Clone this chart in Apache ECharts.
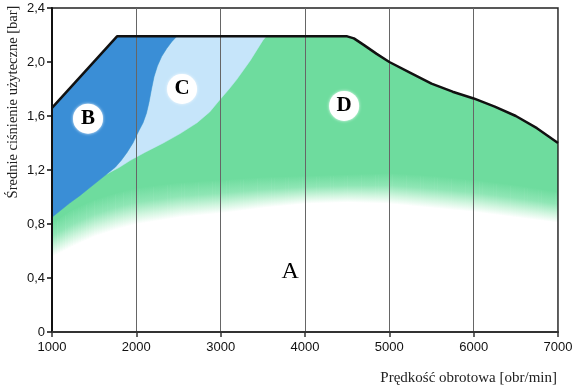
<!DOCTYPE html>
<html>
<head>
<meta charset="utf-8">
<script src="https://cdn.jsdelivr.net/npm/echarts@6/dist/echarts.min.js"></script>
<style>html,body{margin:0;padding:0;background:#fff}#c{width:577px;height:389px}</style>
</head>
<body>
<div id="c"></div>
<script>
// ---- data ----
const xTicks = [1000, 2000, 3000, 4000, 5000, 6000, 7000];
const yTicks = [0, 0.4, 0.8, 1.2, 1.6, 2.0, 2.4];

// outer envelope (black line)
const envelopeX = [1000, 1771, 4500, 4580, 4700, 4850, 5000, 5250, 5500, 5750, 6000, 6250, 6500, 6750, 7000];
const envelopeY = [1.66, 2.19, 2.19, 2.175, 2.125, 2.06, 2.00, 1.92, 1.84, 1.78, 1.73, 1.67, 1.60, 1.51, 1.40];

// boundary B / C (from top down)
const bcX = [2480, 2420, 2360, 2300, 2250, 2210, 2180, 2150, 2120, 2080, 2030, 1960, 1890, 1820, 1750, 1650];
const bcY = [2.19, 2.15, 2.10, 2.04, 1.97, 1.89, 1.80, 1.70, 1.62, 1.55, 1.49, 1.40, 1.33, 1.27, 1.22, 1.17];

// boundary B / D (lower edge of B, from left axis)
const bdX = [1000, 1100, 1210, 1330, 1450, 1550, 1650];
const bdY = [0.85, 0.90, 0.955, 1.01, 1.07, 1.12, 1.17];

// boundary C / D (lower edge of C)
const cdX = [1650, 1800, 1925, 2100, 2320, 2520, 2720, 2870, 2990, 3100, 3190, 3350, 3500, 3540];
const cdY = [1.17, 1.22, 1.27, 1.33, 1.40, 1.47, 1.55, 1.63, 1.72, 1.80, 1.87, 2.01, 2.16, 2.19];

// green fade towards region A
const fadeX = [1000, 1250, 1500, 1750, 2000, 2500, 3000, 3500, 4000, 4500, 5000, 5500, 6000, 6500, 7000];
const fadeTopY = [0.80, 0.90, 0.97, 1.02, 1.06, 1.10, 1.12, 1.14, 1.15, 1.16, 1.17, 1.15, 1.12, 1.08, 1.03];
const fadeBotY = [0.56, 0.64, 0.71, 0.76, 0.80, 0.85, 0.88, 0.92, 0.95, 0.96, 0.95, 0.92, 0.89, 0.85, 0.81];

// region labels
const circleLabelNames = ['B', 'C', 'D'];
const circleLabelX = [1427, 2542, 4464];
const circleLabelY = [1.58, 1.80, 1.675];
const plainLabelNames = ['A'];
const plainLabelX = [3823];
const plainLabelY = [0.443];

// ---- build ----
const pairs = (xs, ys) => xs.map((x, i) => [x, ys[i]]);
const envPts = pairs(envelopeX, envelopeY);
const greenPoly = envPts.concat(pairs(fadeX, fadeTopY).reverse());
const bPoly = envPts.slice(0, 2).concat(pairs(bcX, bcY)).concat(pairs(bdX, bdY).slice(0, -1).reverse());
const cPoly = pairs(cdX, cdY).concat(pairs(bcX, bcY));

const COLORS = { B: '#3a8ed6', C: '#c6e5fa', D: '#6edc9e' };

function polySeries(name, poly, color) {
  return {
    type: 'custom', name: name, z: -1, silent: true,
    data: poly,
    renderItem: function (params, api) {
      if (params.dataIndex !== 0) return null;
      return {
        type: 'polygon',
        shape: { points: poly.map(p => api.coord(p)) },
        style: { fill: color, stroke: color, lineWidth: 0.5 }
      };
    }
  };
}

const fadeSeries = {
  type: 'custom', name: 'fade', z: -1, silent: true,
  data: fadeX.map((x, i) => [x, fadeTopY[i], fadeBotY[i]]),
  renderItem: function (params, api) {
    const i = params.dataIndex;
    if (i >= fadeX.length - 1) return null;
    const t0 = api.coord([fadeX[i], fadeTopY[i]]);
    const t1 = api.coord([fadeX[i + 1], fadeTopY[i + 1]]);
    const b0 = api.coord([fadeX[i], fadeBotY[i]]);
    const b1 = api.coord([fadeX[i + 1], fadeBotY[i + 1]]);
    const n = Math.max(1, Math.ceil((t1[0] - t0[0]) / 3));
    const children = [];
    for (let k = 0; k < n; k++) {
      const a = k / n, b = (k + 1) / n;
      const xa = t0[0] + (t1[0] - t0[0]) * a, xb = t0[0] + (t1[0] - t0[0]) * b;
      const ta = t0[1] + (t1[1] - t0[1]) * a - 1, tb = t0[1] + (t1[1] - t0[1]) * b - 1;
      const ba = b0[1] + (b1[1] - b0[1]) * a, bb = b0[1] + (b1[1] - b0[1]) * b;
      children.push({
        type: 'polygon',
        shape: { points: [[xa, ta], [xb + 0.6, tb], [xb + 0.6, bb], [xa, ba]] },
        style: {
          fill: new echarts.graphic.LinearGradient(0, 0, 0, 1, [
            { offset: 0, color: '#6edc9e' },
            { offset: 0.4, color: '#8fe6b5' },
            { offset: 0.75, color: '#d2f6e0' },
            { offset: 1, color: '#ffffff' }
          ])
        }
      });
    }
    return { type: 'group', children: children };
  }
};

const chart = echarts.init(document.getElementById('c'), null, { renderer: 'canvas' });
chart.setOption({
  animation: false,
  backgroundColor: '#fff',
  grid: { left: 52, right: 19, top: 8, bottom: 57, show: true, borderColor: '#222', borderWidth: 1.5 },
  xAxis: {
    type: 'value', min: xTicks[0], max: xTicks[xTicks.length - 1], interval: 1000,
    axisLine: { lineStyle: { color: '#333', width: 2 } },
    axisTick: { show: true, length: 5, lineStyle: { color: '#333', width: 1.5 } },
    axisLabel: { color: '#111', fontSize: 13, fontFamily: 'Liberation Sans', margin: 9, formatter: v => String(v) },
    splitLine: { show: true, lineStyle: { color: '#666', width: 1 } }
  },
  yAxis: {
    type: 'value', min: yTicks[0], max: yTicks[yTicks.length - 1], interval: 0.4,
    axisLine: { show: true, lineStyle: { color: '#111', width: 2 } },
    axisTick: { show: true, length: 5, lineStyle: { color: '#111', width: 1.5 } },
    axisLabel: {
      color: '#111', fontSize: 13, fontFamily: 'Liberation Sans', margin: 7,
      formatter: v => (v === 0 ? '0' : v.toFixed(1).replace('.', ','))
    },
    splitLine: { show: false }
  },
  graphic: [
    {
      type: 'text', x: 13, y: 102, rotation: Math.PI / 2,
      style: { text: 'Średnie ciśnienie użyteczne [bar]', font: '14.5px "Liberation Serif"', fill: '#222', textAlign: 'center', textVerticalAlign: 'middle' }
    },
    {
      type: 'text', x: 557, y: 378,
      style: { text: 'Prędkość obrotowa [obr/min]', font: '15px "Liberation Serif"', fill: '#222', textAlign: 'right', textVerticalAlign: 'middle' }
    }
  ],
  series: [
    polySeries('D', greenPoly, COLORS.D),
    fadeSeries,
    polySeries('C', cPoly, COLORS.C),
    polySeries('B', bPoly, COLORS.B),
    {
      type: 'line', name: 'envelope', z: 3, silent: true,
      data: envPts, symbol: 'none',
      lineStyle: { color: '#111', width: 2.5 }
    },
    {
      type: 'scatter', name: 'circleLabels', z: 4, silent: true,
      data: circleLabelX.map((x, i) => [x, circleLabelY[i], circleLabelNames[i]]),
      symbol: 'circle', symbolSize: 30,
      itemStyle: { color: '#fff', opacity: 1, shadowBlur: 3, shadowColor: 'rgba(255,255,255,0.9)' },
      label: {
        show: true, position: 'inside', formatter: p => p.value[2],
        fontFamily: 'Liberation Serif', fontWeight: 'bold', fontSize: 21, color: '#000'
      }
    },
    {
      type: 'scatter', name: 'plainLabels', z: 4, silent: true,
      data: plainLabelX.map((x, i) => [x, plainLabelY[i], plainLabelNames[i]]),
      symbolSize: 1, itemStyle: { color: 'rgba(0,0,0,0)', opacity: 1 },
      label: {
        show: true, position: 'inside', formatter: p => p.value[2],
        fontFamily: 'Liberation Serif', fontSize: 24, color: '#000'
      }
    }
  ]
});
</script>
</body>
</html>
